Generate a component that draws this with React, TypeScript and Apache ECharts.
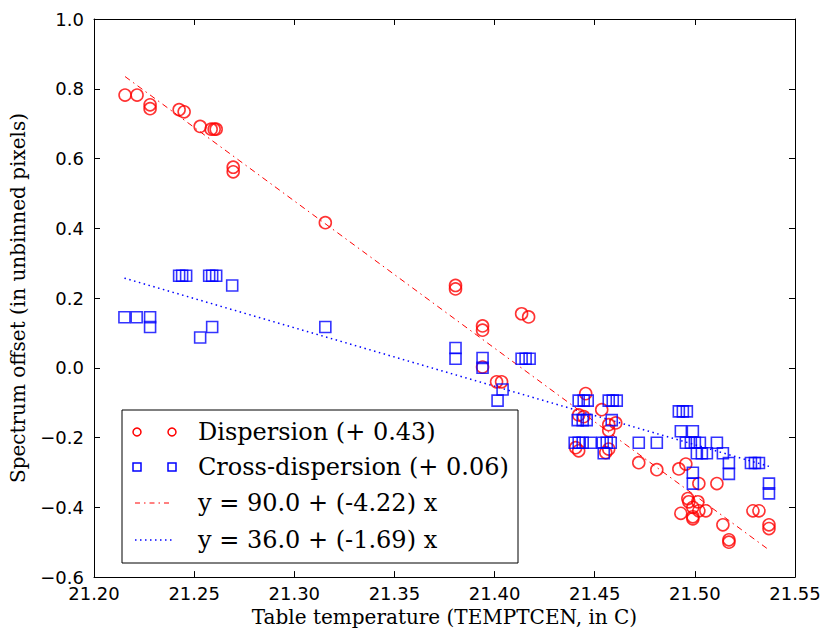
import React, { useEffect, useRef } from "react";
import * as echarts from "echarts";

// Measured spectrum offsets against table temperature
const dispersionPoints: [number, number][] = [
  [21.2155, 0.782], [21.2215, 0.782], [21.228, 0.754], [21.228, 0.743],
  [21.2425, 0.74], [21.245, 0.734], [21.253, 0.692], [21.2585, 0.684],
  [21.26, 0.684], [21.261, 0.684], [21.2695, 0.575], [21.2695, 0.562],
  [21.3155, 0.416], [21.3805, 0.236], [21.3805, 0.226], [21.394, 0.12],
  [21.394, 0.108], [21.394, 0.002], [21.4135, 0.155], [21.417, 0.146],
  [21.401, -0.04], [21.4035, -0.04],
  [21.4455, -0.074], [21.4535, -0.12], [21.442, -0.135], [21.4445, -0.14],
  [21.457, -0.163], [21.4605, -0.158], [21.457, -0.18], [21.4405, -0.229],
  [21.442, -0.238], [21.4555, -0.243], [21.457, -0.233],
  [21.472, -0.272], [21.481, -0.292], [21.492, -0.29], [21.4955, -0.276],
  [21.502, -0.332], [21.511, -0.332], [21.4965, -0.375], [21.497, -0.384],
  [21.5015, -0.384], [21.499, -0.4], [21.502, -0.41], [21.5055, -0.41],
  [21.493, -0.417], [21.499, -0.427], [21.499, -0.433], [21.529, -0.41],
  [21.532, -0.41], [21.514, -0.45], [21.537, -0.45], [21.537, -0.461],
  [21.517, -0.493], [21.517, -0.5],
];

const crossDispersionPoints: [number, number][] = [
  [21.2152, 0.145], [21.2213, 0.145], [21.228, 0.145], [21.228, 0.117],
  [21.2425, 0.264], [21.244, 0.264], [21.246, 0.264], [21.2575, 0.264],
  [21.259, 0.264], [21.261, 0.264], [21.269, 0.236], [21.253, 0.087],
  [21.259, 0.117], [21.3155, 0.117], [21.3805, 0.057], [21.3805, 0.026],
  [21.394, 0.028], [21.394, 0.0], [21.4135, 0.026], [21.4155, 0.026],
  [21.4175, 0.026], [21.404, -0.062], [21.4015, -0.094],
  [21.442, -0.094], [21.4445, -0.094], [21.4465, -0.094], [21.457, -0.094],
  [21.459, -0.094], [21.461, -0.094], [21.4415, -0.15], [21.444, -0.15],
  [21.446, -0.15], [21.4585, -0.15], [21.44, -0.215], [21.442, -0.215],
  [21.444, -0.215], [21.448, -0.215], [21.454, -0.215], [21.456, -0.215],
  [21.458, -0.215], [21.4545, -0.245], [21.472, -0.215], [21.481, -0.215],
  [21.492, -0.125], [21.494, -0.125], [21.496, -0.125], [21.493, -0.182],
  [21.499, -0.182], [21.4955, -0.215], [21.498, -0.215], [21.5, -0.215],
  [21.5025, -0.215], [21.511, -0.215], [21.501, -0.245], [21.5035, -0.245],
  [21.506, -0.245], [21.514, -0.245], [21.517, -0.273], [21.517, -0.304],
  [21.528, -0.273], [21.53, -0.273], [21.532, -0.273], [21.499, -0.301],
  [21.499, -0.332], [21.537, -0.332], [21.537, -0.36],
];

// Linear fits drawn across the measured temperature range
const dispersionFit: [number, number][] = [[21.2155, 0.835], [21.537, -0.522]];
const crossFit: [number, number][] = [[21.2152, 0.257], [21.537, -0.2825]];

const legendLabels = [
  "Dispersion (+ 0.43)",
  "Cross-dispersion (+ 0.06)",
  "y = 90.0 + (-4.22) x",
  "y = 36.0 + (-1.69) x",
];

const X_MIN = 21.2;
const X_MAX = 21.55;
const Y_MIN = -0.6;
const Y_MAX = 1.0;

const RED = "#ff0000";
const BLUE = "#0000ff";
const SANS = "DejaVu Sans";
const SERIF = "DejaVu Serif";

const fmtNum = (v: number, d: number) => {
  const s = Math.abs(v).toFixed(d);
  return v < -1e-9 ? "\u2212" + s : s;
};

export default function App() {
  const ref = useRef<HTMLDivElement>(null);

  useEffect(() => {
    if (!ref.current) return;
    const chart = echarts.init(ref.current, null, { renderer: "svg" });

    const tick = { show: true, inside: true, length: 6, lineStyle: { color: "#000", width: 1 } };
    const line = { show: true, onZero: false, lineStyle: { color: "#000", width: 1 } };

    const legendX = 122;
    const legendY = 410;
    const rowY = [432, 467, 503, 540];
    const textX = 198;

    chart.setOption({
      animation: false,
      backgroundColor: "#ffffff",
      grid: { left: 93, top: 19, width: 702, height: 564, containLabel: false },
      xAxis: [
        {
          type: "value",
          min: X_MIN,
          max: X_MAX,
          interval: 0.05,
          position: "bottom",
          axisLine: line,
          axisTick: tick,
          splitLine: { show: false },
          axisLabel: {
            color: "#000",
            fontFamily: SANS,
            fontSize: 18,
            margin: 7,
            formatter: (v: number) => fmtNum(v, 2),
          },
          name: "Table temperature (TEMPTCEN, in C)",
          nameLocation: "middle",
          nameGap: 29,
          nameTextStyle: { color: "#000", fontFamily: SERIF, fontSize: 20 },
        },
        {
          type: "value",
          min: X_MIN,
          max: X_MAX,
          interval: 0.05,
          position: "top",
          axisLine: line,
          axisTick: tick,
          splitLine: { show: false },
          axisLabel: { show: false },
        },
      ],
      yAxis: [
        {
          type: "value",
          min: Y_MIN,
          max: Y_MAX,
          interval: 0.2,
          position: "left",
          axisLine: line,
          axisTick: tick,
          splitLine: { show: false },
          axisLabel: {
            color: "#000",
            fontFamily: SANS,
            fontSize: 18,
            margin: 10,
            formatter: (v: number) => fmtNum(v, 1),
          },
          name: "Spectrum offset (in unbinned pixels)",
          nameLocation: "middle",
          nameGap: 66,
          nameTextStyle: { color: "#000", fontFamily: SERIF, fontSize: 20 },
        },
        {
          type: "value",
          min: Y_MIN,
          max: Y_MAX,
          interval: 0.2,
          position: "right",
          axisLine: line,
          axisTick: tick,
          splitLine: { show: false },
          axisLabel: { show: false },
        },
      ],
      series: [
        {
          name: legendLabels[0],
          type: "scatter",
          data: dispersionPoints,
          symbol: "circle",
          symbolSize: 12,
          itemStyle: { color: "rgba(0,0,0,0)", borderColor: RED, borderWidth: 1.6 },
          z: 3,
        },
        {
          name: legendLabels[1],
          type: "scatter",
          data: crossDispersionPoints,
          symbol: "rect",
          symbolSize: 11,
          itemStyle: { color: "rgba(0,0,0,0)", borderColor: BLUE, borderWidth: 1.6 },
          z: 3,
        },
        {
          name: legendLabels[2],
          type: "line",
          data: dispersionFit,
          showSymbol: false,
          symbol: "none",
          lineStyle: { color: RED, width: 1, type: [6, 4, 1.5, 4] },
          z: 2,
        },
        {
          name: legendLabels[3],
          type: "line",
          data: crossFit,
          showSymbol: false,
          symbol: "none",
          lineStyle: { color: BLUE, width: 1.5, type: [1.5, 3.5] },
          z: 2,
        },
      ],
      graphic: [
        {
          type: "group",
          z: 100,
          children: [
            {
              type: "rect",
              shape: { x: legendX, y: legendY, width: 396, height: 153 },
              style: { fill: "#fff", stroke: "#000", lineWidth: 1 },
            },
            { type: "circle", shape: { cx: 137, cy: rowY[0], r: 4 }, style: { fill: "none", stroke: RED, lineWidth: 1.5 } },
            { type: "circle", shape: { cx: 172, cy: rowY[0], r: 4 }, style: { fill: "none", stroke: RED, lineWidth: 1.5 } },
            { type: "rect", shape: { x: 133, y: rowY[1] - 4, width: 8, height: 8 }, style: { fill: "none", stroke: BLUE, lineWidth: 1.5 } },
            { type: "rect", shape: { x: 168, y: rowY[1] - 4, width: 8, height: 8 }, style: { fill: "none", stroke: BLUE, lineWidth: 1.5 } },
            {
              type: "line",
              shape: { x1: 135, y1: rowY[2], x2: 170, y2: rowY[2] },
              style: { stroke: RED, lineWidth: 1, lineDash: [5, 4, 1.5, 4] },
            },
            {
              type: "line",
              shape: { x1: 135, y1: rowY[3], x2: 172, y2: rowY[3] },
              style: { stroke: BLUE, lineWidth: 1.5, lineDash: [1.5, 3.5] },
            },
            ...legendLabels.map((t, i) => ({
              type: "text",
              style: {
                x: textX,
                y: rowY[i],
                text: t,
                fill: "#000",
                font: `24px "${SERIF}"`,
                textVerticalAlign: "middle",
                verticalAlign: "middle",
              },
            })),
          ],
        },
      ],
    });

    return () => chart.dispose();
  }, []);

  return (
    <div
      ref={ref}
      style={{ position: "fixed", left: 0, top: 0, width: 825, height: 632, background: "#fff" }}
    />
  );
}
